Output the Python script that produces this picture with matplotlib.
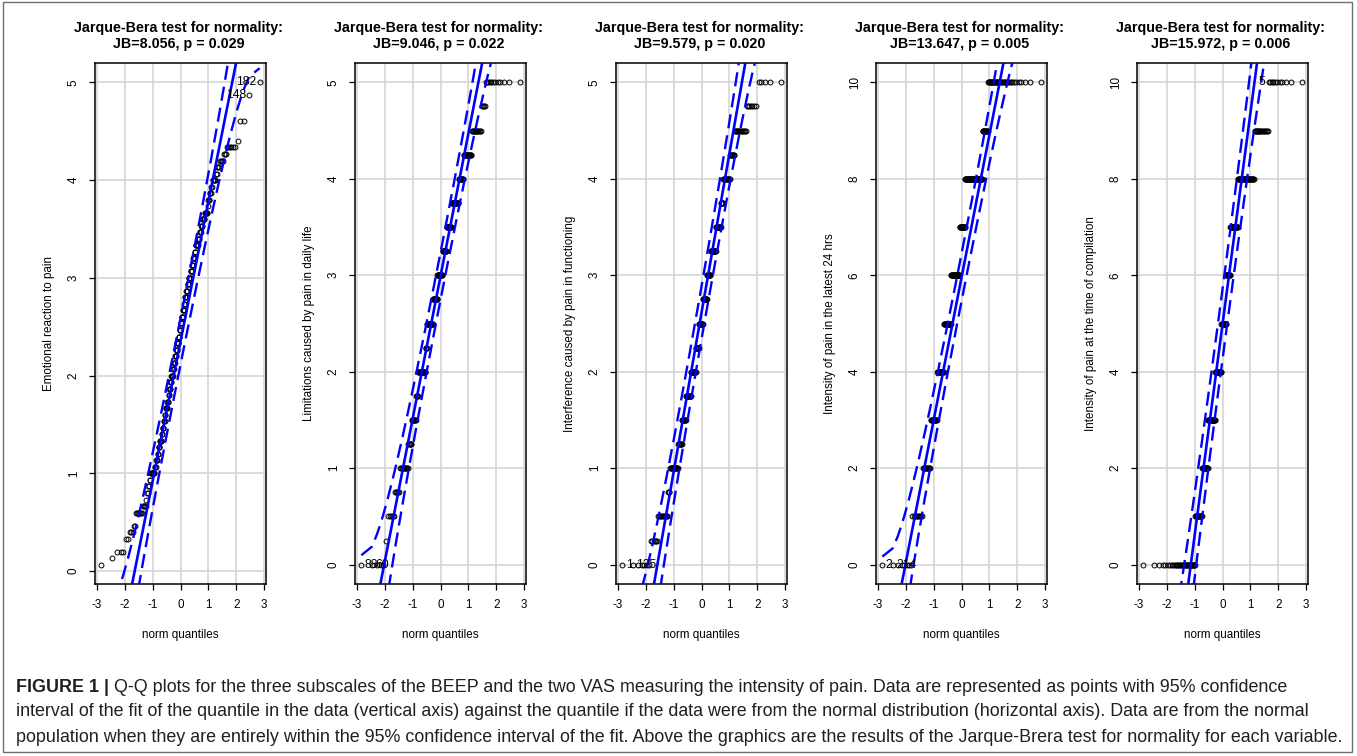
import numpy as np
import matplotlib
matplotlib.use("Agg")
import matplotlib.pyplot as plt
from matplotlib.patches import Rectangle
from statistics import NormalDist

plt.rcParams['font.family'] = ['Liberation Sans', 'DejaVu Sans']

# Jarque-Bera results shown above each panel
jb_stats = ["8.056", "9.046", "9.579", "13.647", "15.972"]
p_values = ["0.029", "0.022", "0.020", "0.005", "0.006"]
y_labels = ["Emotional reaction to pain",
            "Limitations caused by pain in daily life",
            "Interference caused by pain in functioning",
            "Intensity of pain in the latest 24 hrs",
            "Intensity of pain at the time of compilation"]

# response levels and number of subjects at each level
emo_levels = np.arange(76) / 15
emo_counts = [0, 1, 1, 3, 0, 2, 3, 2, 0, 7, 5, 1, 2, 2, 2, 8,
              3, 3, 2, 3, 5, 2, 3, 3, 2, 5, 3, 2, 3, 3,
              5,
              3, 3, 4, 3, 5, 3, 3, 3, 4, 5, 2,
              4, 4, 3, 6, 4, 3, 4, 3, 6, 4, 4, 3, 5, 6, 1,
              3, 3, 2, 5, 2,
              3, 4, 3,
              6, 1, 0, 0, 2, 0, 0, 0, 1, 0, 1]
lim_levels = np.arange(21) * 0.25
lim_counts = [5, 1, 5, 5, 11, 6, 9, 4, 19, 4, 17, 14, 16, 13, 15, 19, 12, 16, 13, 4, 12]
int_levels = np.arange(21) * 0.25
int_counts = [7, 6, 12, 3, 16, 9, 10, 14, 15, 10, 12, 13, 11, 15, 13, 6, 14, 8, 14, 7, 5]
day_levels = np.arange(11)
day_counts = [8, 10, 11, 13, 16, 19, 27, 17, 49, 12, 38]
now_levels = np.arange(11)
now_counts = [36, 15, 15, 21, 19, 15, 13, 22, 36, 17, 11]

levels = [emo_levels, lim_levels, int_levels, day_levels, now_levels]
counts = [emo_counts, lim_counts, int_counts, day_counts, now_counts]

# reference line of each panel (intercept, slope)
line_a = [2.35, 2.99, 2.61, 5.95, 4.98]
line_b = [1.43, 1.48, 1.65, 2.96, 4.38]

# identified points: (rank in sorted sample, label)
id_points = [[(220, "182"), (219, "148")],
             [(1, "88"), (2, "60")],
             [(1, "1"), (2, "125")],
             [(1, "2"), (2, "214")],
             [(210, "5")]]

y_ticks = [np.arange(0, 6), np.arange(0, 6), np.arange(0, 6),
           np.arange(0, 11, 2), np.arange(0, 11, 2)]

caption = ["Q-Q plots for the three subscales of the BEEP and the two VAS measuring the intensity of pain. Data are represented as points with 95% confidence",
           "interval of the fit of the quantile in the data (vertical axis) against the quantile if the data were from the normal distribution (horizontal axis). Data are from the normal",
           "population when they are entirely within the 95% confidence interval of the fit. Above the graphics are the results of the Jarque-Brera test for normality for each variable."]

W, H = 1357, 756
fig = plt.figure(figsize=(W / 100, H / 100), dpi=100)
norm = NormalDist()
lefts = [95, 355, 616, 876, 1137]

for j in range(5):
    ax = fig.add_axes([lefts[j] / W, (H - 584) / H, 171 / W, 521 / H])
    y = np.repeat(levels[j], counts[j])
    n = len(y)
    P = (np.arange(1, n + 1) - 0.5) / n
    z = np.array([norm.inv_cdf(p) for p in P])
    dens = np.array([norm.pdf(v) for v in z])

    a, b = line_a[j], line_b[j]
    fit = a + b * z
    se = b / dens * np.sqrt(P * (1 - P) / n)
    crit = norm.inv_cdf(0.975)

    ax.plot(z, y, 'o', mfc='none', mec='black', ms=3.5, mew=0.7, zorder=3)
    ax.axline((0, a), slope=b, color='#0000ff', lw=1.9, zorder=4)
    ax.plot(z, fit + crit * se, color='#0000ff', lw=1.7, ls=(0, (6, 3)), zorder=4)
    ax.plot(z, fit - crit * se, color='#0000ff', lw=1.7, ls=(0, (6, 3)), zorder=4)

    for rank, lab in id_points[j]:
        zx, yy = z[rank - 1], y[rank - 1]
        if zx > 0:
            ax.text(zx - 0.12, yy, lab, ha='right', va='center', fontsize=8.8, zorder=5)
        else:
            ax.text(zx + 0.12, yy, lab, ha='left', va='center', fontsize=8.8, zorder=5)

    xr = z.max() - z.min()
    yr = y.max() - y.min()
    ax.set_xlim(z.min() - 0.04 * xr, z.max() + 0.04 * xr)
    ax.set_ylim(y.min() - 0.04 * yr, y.max() + 0.04 * yr)
    ax.set_xticks(np.arange(-3, 4))
    ax.set_xticklabels([str(v) for v in range(-3, 4)])
    ax.set_yticks(y_ticks[j])
    ax.grid(True, color='#d6d6d6', lw=1.2, zorder=0)
    ax.set_axisbelow(True)
    for s in ax.spines.values():
        s.set_linewidth(1.1)
    ax.tick_params(direction='out', length=4, width=0.9, labelsize=8.4, pad=7)
    ax.tick_params(axis='y', labelrotation=90)
    for t in ax.get_yticklabels():
        t.set_va('center')
    ax.set_xlabel("norm quantiles", fontsize=8.4, labelpad=13)
    ax.set_ylabel(y_labels[j], fontsize=8.4, labelpad=9)

    cx = (lefts[j] + 85.5 - 2) / W
    fig.text(cx, 1 - 28 / H, "Jarque-Bera test for normality:", ha='center', va='center',
             fontsize=10.3, fontweight='bold')
    fig.text(cx, 1 - 44 / H, "JB=%s, p = %s" % (jb_stats[j], p_values[j]), ha='center',
             va='center', fontsize=10.3, fontweight='bold')

# caption below the panels
cap_color = '#231f20'
cap_size = 12.85
x0 = 16 / W
t0 = fig.text(x0, 1 - 687 / H, "FIGURE 1 |", ha='left', va='center', fontsize=cap_size,
              fontweight='bold', color=cap_color)
fig.canvas.draw()
bb = t0.get_window_extent(renderer=fig.canvas.get_renderer())
fig.text(bb.x1 / W, 1 - 687 / H, " " + caption[0], ha='left', va='center', fontsize=cap_size,
         color=cap_color)
fig.text(x0, 1 - 712 / H, caption[1], ha='left', va='center', fontsize=cap_size, color=cap_color)
fig.text(x0, 1 - 737 / H, caption[2], ha='left', va='center', fontsize=cap_size, color=cap_color)

fig.patches.append(Rectangle((3 / W, 1 - 752 / H), 1349 / W, 750 / H, transform=fig.transFigure,
                             fill=False, edgecolor='#707070', lw=1))

fig.savefig("out.png", dpi=100)
